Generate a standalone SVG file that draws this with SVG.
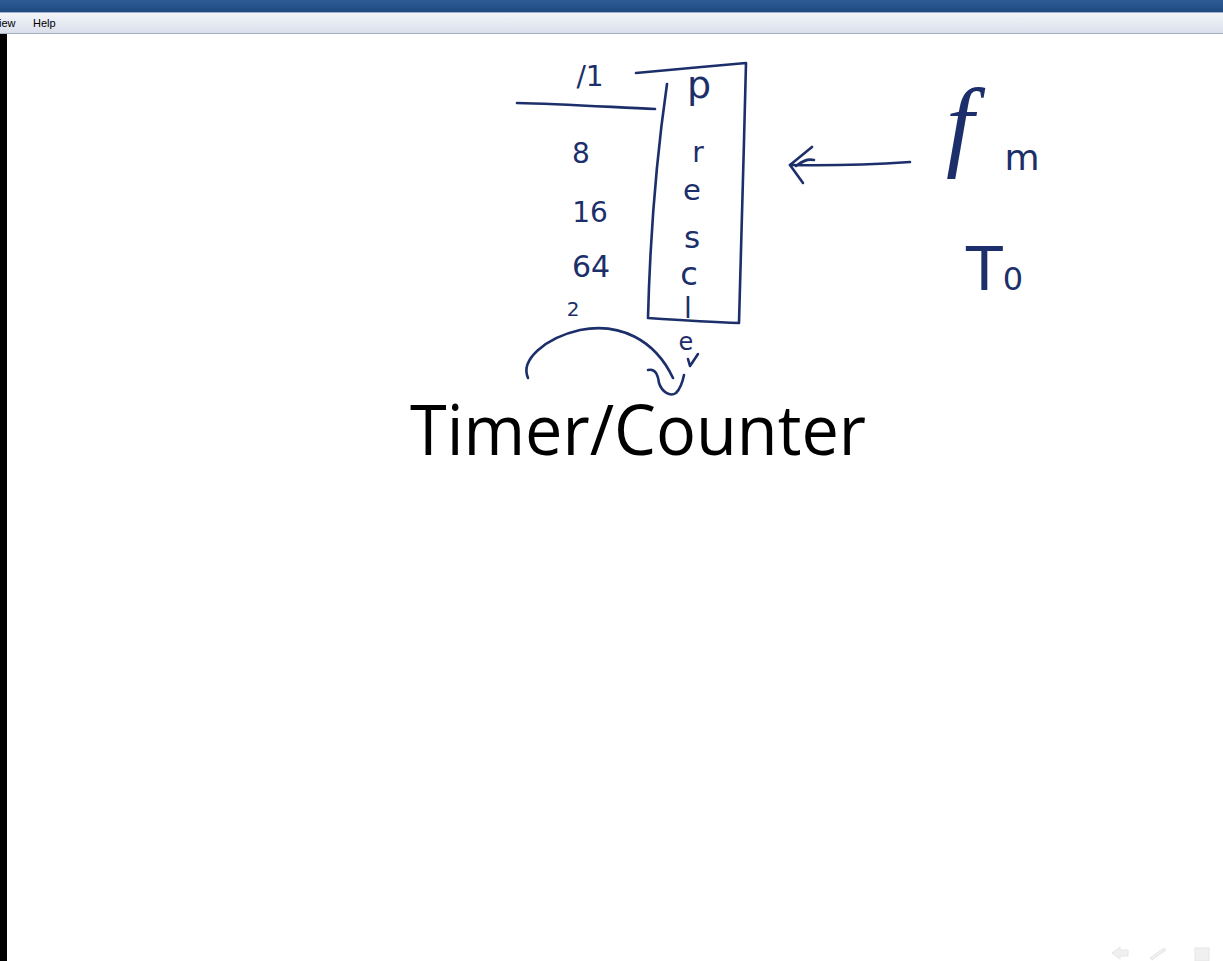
<svg xmlns="http://www.w3.org/2000/svg" width="1223" height="961" viewBox="0 0 1223 961">
<style>
.ink{fill:none;stroke:#1c2f6a;stroke-width:2.6;stroke-linecap:round;stroke-linejoin:round}
.hw{fill:#1c2f6a;font-family:"DejaVu Sans","Liberation Sans",sans-serif}
.menu{fill:#000;font-family:"Liberation Sans",Arial,sans-serif;font-size:11px}
.faint{fill:#f0f0f0;stroke:#e6e6e6;stroke-width:1}
</style>
<defs>
<linearGradient id="title" x1="0" y1="0" x2="0" y2="1">
<stop offset="0" stop-color="#2f5c95"/><stop offset="1" stop-color="#1f4a80"/>
</linearGradient>
<linearGradient id="menubar" x1="0" y1="0" x2="0" y2="1">
<stop offset="0" stop-color="#f3f5fa"/><stop offset="1" stop-color="#d9dfeb"/>
</linearGradient>
</defs>
<rect width="1223" height="961" fill="#ffffff"/>
<g id="window-chrome">
<rect x="0" y="0" width="1223" height="12" fill="url(#title)"/>
<rect x="0" y="12" width="1223" height="1" fill="#9fb3cf"/>
<rect x="0" y="13" width="1223" height="20" fill="url(#menubar)"/>
<rect x="0" y="33" width="1223" height="1" fill="#a7b0be"/>
<text class="menu" x="-1" y="27">iew</text>
<text class="menu" x="33" y="27">Help</text>
<rect x="0" y="34" width="7" height="927" fill="#000"/>
<g id="nav-icons">
<path class="faint" d="M1112 953 l8 -6 v3 h8 v6 h-8 v3 z"/>
<path class="faint" d="M1150 958 l14 -10 l2 2 l-14 10 z"/>
<rect class="faint" x="1195" y="948" width="14" height="13"/>
</g>
</g>
<g id="prescaler">
<path class="ink" d="M636 73 C670 70 710 66 746 63 C744 150 741 240 739 323 C710 322 678 320 648 318 C650 240 656 160 667 84"/>
<text class="hw" x="699" y="98" font-size="38" text-anchor="middle">p</text>
<text class="hw" x="698" y="162" font-size="28" text-anchor="middle">r</text>
<text class="hw" x="692" y="200" font-size="29" text-anchor="middle">e</text>
<text class="hw" x="692" y="248" font-size="31" text-anchor="middle">s</text>
<text class="hw" x="689" y="285" font-size="32" text-anchor="middle">c</text>
<text class="hw" x="688" y="318" font-size="28" text-anchor="middle">l</text>
<text class="hw" x="686" y="350" font-size="24" text-anchor="middle">e</text>
</g>
<g id="divider">
<path class="ink" d="M517 103 C560 104 610 107 655 109"/>
</g>
<g id="ratios">
<text class="hw" x="590" y="86" font-size="28" text-anchor="middle">/1</text>
<text class="hw" x="581" y="163" font-size="28" text-anchor="middle">8</text>
<text class="hw" x="590" y="222" font-size="28" text-anchor="middle">16</text>
<text class="hw" x="591" y="277" font-size="30" text-anchor="middle">64</text>
<text class="hw" x="573" y="316" font-size="20" text-anchor="middle">2</text>
</g>
<g id="fm">
<text class="hw" x="946" y="158" font-size="100" font-style="italic" style="font-family:'Liberation Serif',serif">f</text>
<text class="hw" x="1022" y="170" font-size="36" text-anchor="middle">m</text>
</g>
<g id="T0">
<text class="hw" x="966" y="290" font-size="60">T<tspan font-size="32">0</tspan></text>
</g>
<g id="title-text">
<text x="410" y="455" font-family="'Open Sans','Noto Sans',sans-serif" font-size="70" fill="#000" textLength="456" lengthAdjust="spacingAndGlyphs">Timer/Counter</text>
</g>
<g id="connectors">
<path class="ink" d="M910 162 C880 164 840 166 790 165"/>
<path class="ink" d="M812 147 L790 165 L803 183"/>
<path class="ink" d="M814 160 C806 158 800 163 796 166"/>
<path class="ink" d="M528 378 C520 360 545 338 580 330 C620 322 655 340 673 378"/>
<path class="ink" d="M648 370 C656 368 658 376 659 383 C662 392 670 397 676 393 C681 388 683 380 684 375"/>
<path class="ink" d="M698 354 L690 366 L688 359"/>
</g>
</svg>
